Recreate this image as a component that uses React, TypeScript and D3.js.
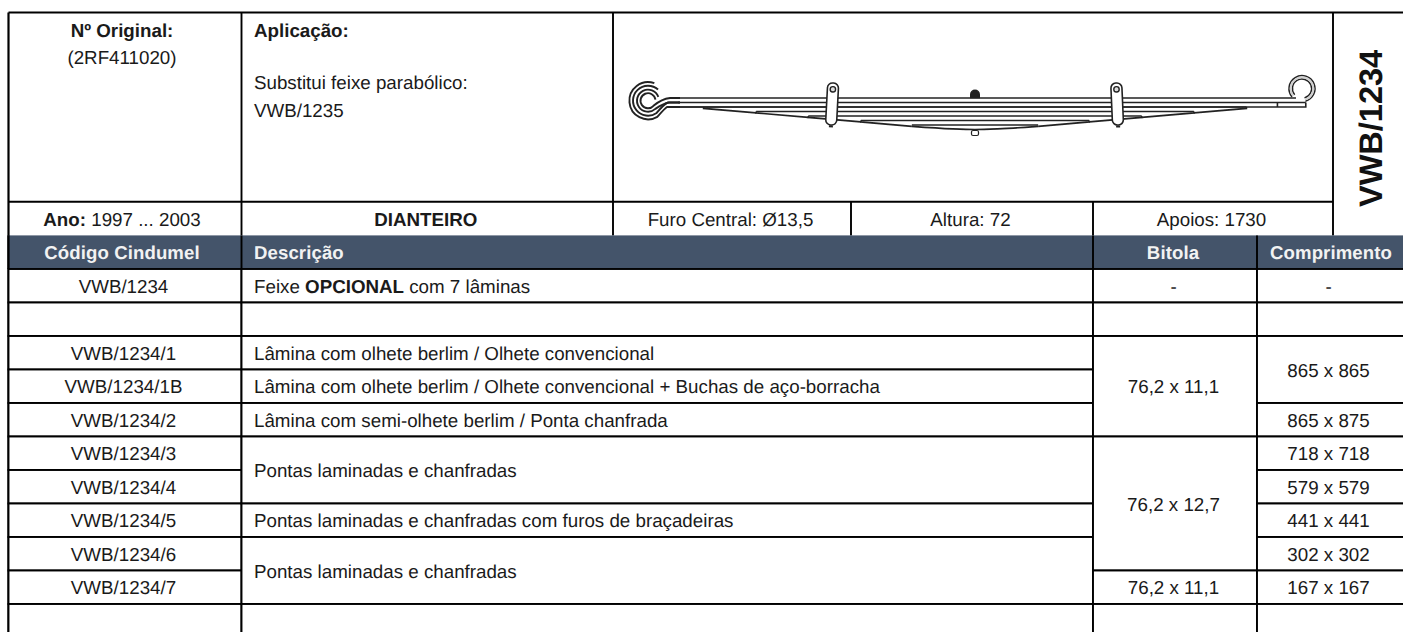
import React from "react";
import * as d3 from "d3";

const codes = ["VWB/1234", "", "VWB/1234/1", "VWB/1234/1B", "VWB/1234/2", "VWB/1234/3", "VWB/1234/4", "VWB/1234/5", "VWB/1234/6", "VWB/1234/7", ""];
// [text, first row, rows spanned]
const descriptions: [string, number, number][] = [
  ["", 1, 1],
  ["Lâmina com olhete berlim / Olhete convencional", 2, 1],
  ["Lâmina com olhete berlim / Olhete convencional + Buchas de aço-borracha", 3, 1],
  ["Lâmina com semi-olhete berlim / Ponta chanfrada", 4, 1],
  ["Pontas laminadas e chanfradas", 5, 2],
  ["Pontas laminadas e chanfradas com furos de braçadeiras", 7, 1],
  ["Pontas laminadas e chanfradas", 8, 2],
  ["", 10, 1],
];
const bitolas: [string, number, number][] = [
  ["-", 0, 1],
  ["", 1, 1],
  ["76,2 x 11,1", 2, 3],
  ["76,2 x 12,7", 5, 4],
  ["76,2 x 11,1", 9, 1],
  ["", 10, 1],
];
const comprimentos: [string, number, number][] = [
  ["-", 0, 1],
  ["", 1, 1],
  ["865 x 865", 2, 2],
  ["865 x 875", 4, 1],
  ["718 x 718", 5, 1],
  ["579 x 579", 6, 1],
  ["441 x 441", 7, 1],
  ["302 x 302", 8, 1],
  ["167 x 167", 9, 1],
  ["", 10, 1],
];
const headers = ["Código Cindumel", "Descrição", "Bitola", "Comprimento"];
const infoCells = ["Furo Central: Ø13,5", "Altura: 72", "Apoios: 1730"];

// leaf lengths in mm from the centre bolt, left and right side
const leafLeft = [865, 865, 718, 579, 441, 302, 167];
const leafRight = [865, 875, 718, 579, 441, 302, 167];
const clampsMm = [-378, 376];

const FONT = "'Liberation Sans', Arial, sans-serif";
const INK = "#1a1a1a";
const FS = 18.75;
const BASE = 7;

const colX = { a: 8.5, b: 241.5, c: 1093, d: 1257, e: 1403 };
const topX = { img: 613, alt: 851, apo: 1333 };
const rowY = d3.scaleLinear().domain([0, 11]).range([269, 637.5]);
const Y_TOP = 12.5;
const Y_INFO = 201.7;
const Y_HEAD = 235.4;

function Cell({ x0, x1, y0, y1, text, align = "middle", bold = false }: any) {
  return (
    <text
      x={align === "middle" ? (x0 + x1) / 2 - 1.5 : x0 + 12.5}
      y={(y0 + y1) / 2 + BASE}
      textAnchor={align}
      fontSize={FS}
      fontWeight={bold ? "bold" : "normal"}
      fill={INK}
    >
      {text}
    </text>
  );
}

function Spring() {
  const mmX = d3.scaleLinear().domain([-865, 865]).range([648, 1302]);
  const stackY = d3.scaleLinear().domain([0, 7]).range([98, 129.5]);
  const leaves = d3.range(leafLeft.length);
  const stroke = "#222";
  const line = d3.line<[number, number]>();
  const rad = (a: number) => (a * Math.PI) / 180;

  // left eye: four rings, wrapped from the top leaves
  const cx = mmX(-865);
  const cy = 100.7;
  const rings: [number, number, number, number][] = [
    [7.5, 40, 352, stackY(0)],
    [11, 48, 340, stackY(1)],
    [15, 55, 312, stackY(1)],
    [18.6, 60, 290, stackY(2)],
  ];
  const ringPath = ([r, a0, a1, yEnd]: [number, number, number, number], i: number) => {
    const p = d3.path();
    const sx = cx + r * Math.cos(rad(a0));
    const sy = cy + r * Math.sin(rad(a0));
    p.moveTo(680, yEnd);
    p.lineTo(670 - i, yEnd);
    p.quadraticCurveTo(sx + 8, yEnd + 1, sx, sy);
    p.arc(cx, cy, r, rad(a0), rad(a1));
    return p.toString();
  };

  // right eye: a single open ring over the top leaf
  const rx = mmX(865);
  const ry = 88.6;
  const rightEye = (r: number) => {
    const p = d3.path();
    p.arc(rx, ry, r, rad(75), rad(140), true);
    return p.toString();
  };

  const underside = d3.line<[number, number]>().curve(d3.curveMonotoneX);

  return (
    <g filter="url(#soft)" fill="none" stroke={stroke} strokeWidth={1.6}>
      {/* horizontal leaf edges */}
      {leaves.map((i) => {
        const x0 = i < 3 ? 678 : mmX(-leafLeft[i]);
        const x1 = i === 0 ? rx - 6 : mmX(leafRight[i]);
        return <path key={i} d={line([[x0, stackY(i)], [x1, stackY(i)]]) ?? ""} strokeWidth={1.7} />;
      })}
      <path d={line([[mmX(875), stackY(1)], [mmX(875), stackY(2)], [678, stackY(2)]]) ?? ""} />
      <path d={line([[mmX(800), stackY(1)], [mmX(800), stackY(2)]]) ?? ""} />

      {/* tapered undersides, tip to tip */}
      {leaves.slice(2, -1).map((i) => {
        const yTip = stackY(i) + 1.4;
        const next = stackY(i + 1) + 1.4;
        return (
          <g key={i}>
            <path d={line([[mmX(-leafLeft[i]), stackY(i)], [mmX(-leafLeft[i]), yTip], [mmX(-leafLeft[i + 1]), next]]) ?? ""} />
            <path d={line([[mmX(leafRight[i]), stackY(i)], [mmX(leafRight[i]), yTip], [mmX(leafRight[i + 1]), next]]) ?? ""} />
          </g>
        );
      })}
      <path
        d={underside([[mmX(-167), stackY(6) + 1.4], [mmX(-60), stackY(7) - 0.6], [mmX(0), stackY(7)], [mmX(60), stackY(7) - 0.6], [mmX(167), stackY(6) + 1.4]]) ?? ""}
      />

      {rings.map((r, i) => (
        <path key={i} d={ringPath(r, i)} strokeWidth={1.9} />
      ))}

      <path d={rightEye(13)} strokeWidth={1.5} />
      <path d={rightEye(9.6)} strokeWidth={1.5} />
      <path d={rightEye(11.3)} stroke="#d0d0d0" strokeWidth={2} />

      {/* clamps */}
      {clampsMm.map((m, i) => {
        const x = mmX(m);
        return (
          <g key={m} transform={`rotate(${i === 0 ? 3 : -2.5}, ${x}, 104)`}>
            <rect x={x - 5.5} y={83} width={11} height={42} rx={5} fill="#fff" strokeWidth={1.6} />
            <circle cx={x} cy={89.3} r={2.7} fill="#ddd" strokeWidth={1.4} />
            <path d={line([[x - 2, 126.5], [x + 2, 126.5]]) ?? ""} strokeWidth={2} />
          </g>
        );
      })}

      {/* centre bolt */}
      <path d="M-4.2 6.5 V3.5 A4.2 4.2 0 0 1 4.2 3.5 V6.5 Z" transform={`translate(${mmX(0)}, 91)`} fill="#222" />
      <rect x={mmX(0) - 3.5} y={130.5} width={7} height={5} rx={1.5} fill="#fff" strokeWidth={1.2} />
    </g>
  );
}

export default function App() {
  const lineW = 1.9;
  const rowsN = codes.length;
  const spanRect = (x0: number, x1: number, first: number, span: number) => (
    <rect
      key={`${x0}-${first}`}
      x={x0}
      y={rowY(first)}
      width={x1 - x0}
      height={rowY(first + span) - rowY(first)}
      fill="#fff"
      stroke="#000"
      strokeWidth={lineW}
    />
  );

  return (
    <svg
      width={1403}
      height={632}
      viewBox="0 0 1403 632"
      style={{ position: "absolute", left: 0, top: 0, background: "#fff" }}
      fontFamily={FONT}
      textRendering="geometricPrecision"
    >
      <defs>
        <filter id="soft" x="-5%" y="-20%" width="110%" height="140%">
          <feGaussianBlur stdDeviation="0.45" />
        </filter>
      </defs>

      {/* Top block */}
      <g fill="none" stroke="#000" strokeWidth={lineW}>
        <path d={`M${colX.a} ${Y_TOP} H1403`} strokeWidth={2.2} />
        <path d={`M${colX.a} ${Y_TOP} V${rowY(rowsN)}`} strokeWidth={2.2} />
        <path d={`M${colX.b} ${Y_TOP} V${Y_HEAD}`} />
        <path d={`M${topX.img} ${Y_TOP} V${Y_HEAD}`} />
        <path d={`M${topX.apo} ${Y_TOP} V${Y_HEAD}`} />
        <path d={`M${topX.alt} ${Y_INFO} V${Y_HEAD}`} />
        <path d={`M${colX.c} ${Y_INFO} V${Y_HEAD}`} />
        <path d={`M${colX.a} ${Y_INFO} H${topX.apo}`} />
      </g>

      <g fontSize={FS} fill={INK}>
        <text x={122} y={36.5} textAnchor="middle" fontWeight="bold">Nº Original:</text>
        <text x={122} y={63.5} textAnchor="middle">(2RF411020)</text>
        <text x={254} y={36.5} fontWeight="bold">Aplicação:</text>
        <text x={254} y={89}>Substitui feixe parabólico:</text>
        <text x={254} y={116.5}>VWB/1235</text>
      </g>

      <Spring />

      <text
        transform="translate(1381.5, 207) rotate(-90)"
        fontSize={32.5}
        fontWeight="bold"
        fill="#111"
      >
        VWB/1234
      </text>

      {/* Info row */}
      <text x={122} y={(Y_INFO + Y_HEAD) / 2 + BASE} textAnchor="middle" fontSize={FS} fill={INK}>
        <tspan fontWeight="bold">Ano:</tspan> 1997 ... 2003
      </text>
      <Cell x0={colX.b} x1={topX.img} y0={Y_INFO} y1={Y_HEAD} text="DIANTEIRO" bold />
      <Cell x0={topX.img} x1={topX.alt} y0={Y_INFO} y1={Y_HEAD} text={infoCells[0]} />
      <Cell x0={topX.alt} x1={colX.c} y0={Y_INFO} y1={Y_HEAD} text={infoCells[1]} />
      <Cell x0={colX.c} x1={topX.apo} y0={Y_INFO} y1={Y_HEAD} text={infoCells[2]} />

      {/* Header band */}
      <rect x={colX.a} y={Y_HEAD} width={1403 - colX.a} height={rowY(0) - Y_HEAD} fill="#44546a" />
      <g stroke="#000" strokeWidth={lineW}>
        <path d={`M${colX.a} ${Y_HEAD} V${rowY(0)}`} strokeWidth={2.2} />
        <path d={`M${colX.b} ${Y_HEAD} V${rowY(0)}`} />
        <path d={`M${colX.c} ${Y_HEAD} V${rowY(0)}`} />
        <path d={`M${colX.d} ${Y_HEAD} V${rowY(0)}`} />
      </g>
      <g fontSize={18.6} fontWeight="bold" fill="#f2f2f2" letterSpacing={0.1}>
        <text x={122} y={Y_HEAD + 23.8} textAnchor="middle">{headers[0]}</text>
        <text x={254} y={Y_HEAD + 23.8}>{headers[1]}</text>
        <text x={1173} y={Y_HEAD + 23.8} textAnchor="middle">{headers[2]}</text>
        <text x={1331} y={Y_HEAD + 23.8} textAnchor="middle">{headers[3]}</text>
      </g>

      {/* Table body */}
      <g>
        {codes.map((_, i) => spanRect(colX.a, colX.b, i, 1))}
        {spanRect(colX.b, colX.c, 0, 1)}
        {descriptions.map(([, f, s]) => spanRect(colX.b, colX.c, f, s))}
        {bitolas.map(([, f, s]) => spanRect(colX.c, colX.d, f, s))}
        {comprimentos.map(([, f, s]) => spanRect(colX.d, colX.e + 4, f, s))}
      </g>
      {codes.map((t, i) => (
        <Cell key={i} x0={colX.a} x1={colX.b} y0={rowY(i)} y1={rowY(i + 1)} text={t} />
      ))}
      <text x={colX.b + 12.5} y={(rowY(0) + rowY(1)) / 2 + BASE} fontSize={FS} fill={INK}>
        Feixe <tspan fontWeight="bold">OPCIONAL</tspan> com 7 lâminas
      </text>
      {descriptions.map(([t, f, s], i) => (
        <Cell key={i} x0={colX.b} x1={colX.c} y0={rowY(f)} y1={rowY(f + s)} text={t} align="start" />
      ))}
      {bitolas.map(([t, f, s], i) => (
        <Cell key={i} x0={colX.c} x1={colX.d} y0={rowY(f)} y1={rowY(f + s)} text={t} />
      ))}
      {comprimentos.map(([t, f, s], i) => (
        <Cell key={i} x0={colX.d} x1={colX.e} y0={rowY(f)} y1={rowY(f + s)} text={t} />
      ))}
    </svg>
  );
}
